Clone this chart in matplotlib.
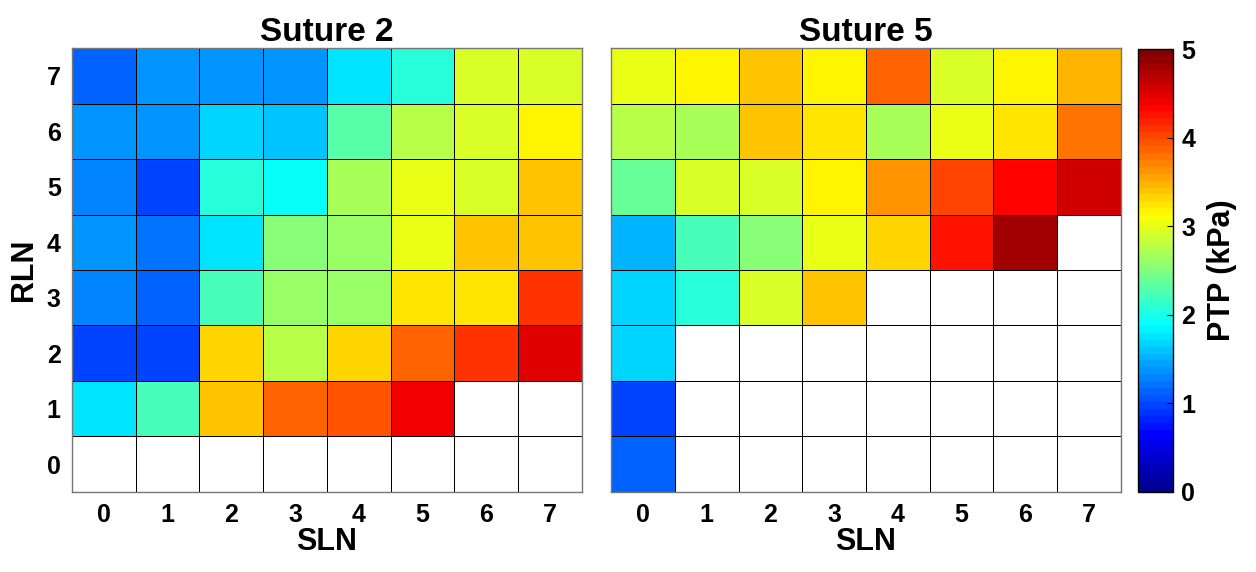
import numpy as np
import matplotlib

matplotlib.use("Agg")
import matplotlib.pyplot as plt
from matplotlib.colors import LinearSegmentedColormap

plt.rcParams["font.family"] = ["Liberation Sans", "DejaVu Sans"]
plt.rcParams["font.weight"] = "bold"

sln = [0, 1, 2, 3, 4, 5, 6, 7]
rln = [0, 1, 2, 3, 4, 5, 6, 7]
nan = np.nan

# rows are RLN 0..7, columns are SLN 0..7 (PTP in kPa)
suture2 = [
    [nan, nan, nan, nan, nan, nan, nan, nan],
    [1.79, 2.19, 3.38, 3.84, 3.91, 4.38, nan, nan],
    [0.94, 0.94, 3.29, 2.81, 3.29, 3.84, 4.13, 4.46],
    [1.31, 1.13, 2.26, 2.58, 2.65, 3.21, 3.21, 4.13],
    [1.40, 1.21, 1.79, 2.50, 2.65, 3.04, 3.38, 3.38],
    [1.31, 0.94, 2.04, 1.94, 2.72, 3.04, 2.96, 3.38],
    [1.40, 1.38, 1.71, 1.63, 2.34, 2.81, 2.96, 3.13],
    [1.13, 1.38, 1.40, 1.40, 1.79, 2.04, 2.90, 2.96],
]
suture5 = [
    [1.13, nan, nan, nan, nan, nan, nan, nan],
    [1.00, nan, nan, nan, nan, nan, nan, nan],
    [1.65, nan, nan, nan, nan, nan, nan, nan],
    [1.71, 2.04, 2.90, 3.38, nan, nan, nan, nan],
    [1.56, 2.19, 2.50, 3.04, 3.35, 4.23, 4.78, nan],
    [2.38, 2.90, 2.90, 3.13, 3.60, 4.06, 4.30, 4.54],
    [2.81, 2.72, 3.38, 3.25, 2.72, 3.04, 3.25, 3.75],
    [3.04, 3.13, 3.38, 3.13, 3.84, 2.96, 3.13, 3.45],
]

titles = ["Suture 2", "Suture 5"]

# MATLAB-style jet, 64 levels
matlab_jet = LinearSegmentedColormap(
    "matlab_jet",
    {
        "red": [(0, 0, 0), (0.375, 0, 0), (0.625, 1, 1), (0.875, 1, 1), (1, 0.5, 0.5)],
        "green": [(0, 0, 0), (0.125, 0, 0), (0.375, 1, 1), (0.625, 1, 1), (0.875, 0, 0), (1, 0, 0)],
        "blue": [(0, 0.5625, 0.5625), (0.125, 1, 1), (0.375, 1, 1), (0.625, 0, 0), (1, 0, 0)],
    },
    N=64,
)

fig = plt.figure(figsize=(12.56, 5.72), dpi=100)
ax_l = fig.add_axes([0.0573, 0.140, 0.406, 0.776])
ax_r = fig.add_axes([0.4865, 0.140, 0.406, 0.776])
cax = fig.add_axes([0.906, 0.140, 0.028, 0.774])

edges_x = np.arange(len(sln) + 1) - 0.5
edges_y = np.arange(len(rln) + 1) - 0.5

for ax, data, title in zip([ax_l, ax_r], [suture2, suture5], titles):
    # grid for the empty (white) cells
    for i in range(len(rln) + 1):
        ax.plot([-0.5, 7.5], [i - 0.5, i - 0.5], color="#555555", lw=0.75, zorder=1)
        ax.plot([i - 0.5, i - 0.5], [-0.5, 7.5], color="#555555", lw=0.75, zorder=1)
    mesh = ax.pcolormesh(edges_x, edges_y, np.ma.masked_invalid(np.array(data)),
                         cmap=matlab_jet, vmin=0, vmax=5, edgecolors="k",
                         linewidth=0.6, zorder=2)
    ax.set_xlim(-0.5, 7.5)
    ax.set_ylim(-0.5, 7.5)
    ax.set_xticks(sln)
    ax.set_xticklabels([str(v) for v in sln], fontsize=18, fontweight="bold")
    ax.tick_params(length=0, pad=8)
    ax.set_title(title, fontsize=24, fontweight="bold", pad=4)
    ax.set_xlabel("SLN", fontsize=22, fontweight="bold", labelpad=0)
    for s in ax.spines.values():
        s.set_color("#777777")
        s.set_linewidth(1.0)

ax_l.set_yticks(rln)
ax_l.set_yticklabels([str(v) for v in rln], fontsize=18, fontweight="bold")
ax_l.set_ylabel("RLN", fontsize=22, fontweight="bold", labelpad=6)
ax_r.set_yticks(rln)
ax_r.set_yticklabels([])

cb = fig.colorbar(mesh, cax=cax, ticks=[0, 1, 2, 3, 4, 5])
cb.outline.set_linewidth(1.0)
cb.ax.tick_params(labelsize=18, direction="in", length=4, width=0.8, pad=6)
for lbl in cb.ax.get_yticklabels():
    lbl.set_fontweight("bold")
cb.set_label("PTP (kPa)", fontsize=22, fontweight="bold", labelpad=8)

fig.savefig("out.png", dpi=100)
